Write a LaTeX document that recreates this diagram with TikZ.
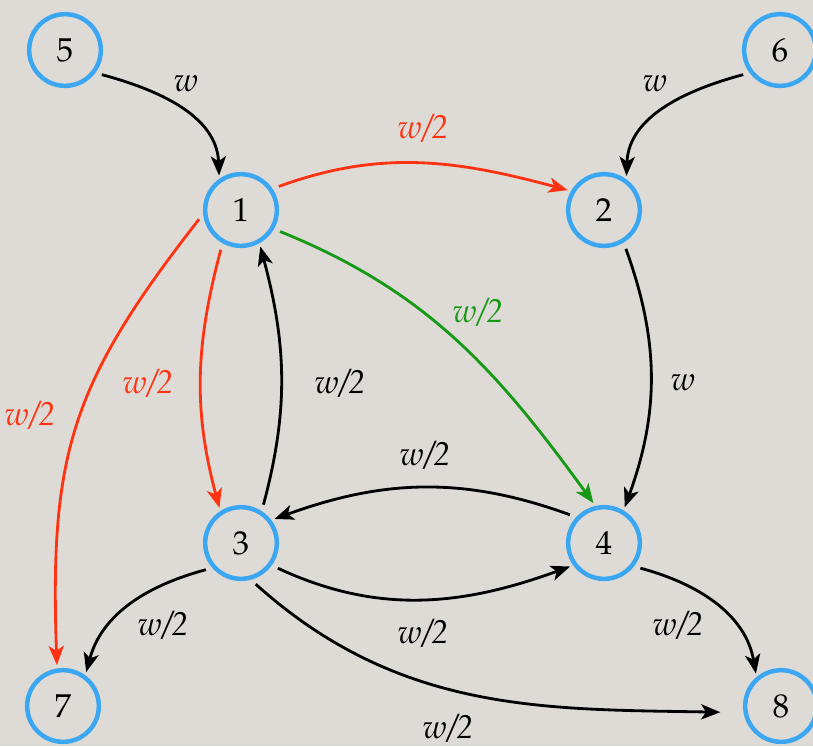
\documentclass[tikz,border=0pt]{standalone}
\usepackage[T1]{fontenc}
\usepackage{mathpazo}
\usetikzlibrary{arrows.meta, positioning}
\definecolor{paper}{HTML}{DEDBD7}
\definecolor{ringblue}{HTML}{3BA7F2}
\definecolor{flowred}{HTML}{FF3311}
\definecolor{flowgreen}{HTML}{169A16}

\begin{document}
\begin{tikzpicture}[
		x=0.0106cm, y=-0.0106cm,
		% vertices of the graph
		vertex/.style={
			circle,
			draw=ringblue,
			line width=1.35pt,
			minimum size=0.76cm,
			inner sep=0pt,
			font=\normalsize
		},
		% weighted edges
		flow/.style={
			-{Stealth[length=5.8pt, width=4.6pt, inset=1.5pt]},
			line width=0.85pt,
			black,
			shorten <=2pt,
			shorten >=1pt
		},
		redflow/.style={flow, flowred},
		greenflow/.style={flow, flowgreen},
		% weight labels
		weight/.style={font=\normalsize\itshape, inner sep=1pt}
		]
		
		% Background
		\useasboundingbox (0,0) rectangle (813,746);
		\fill[paper] (0,0) rectangle (813,746);
		
		% Vertices
		\node (v5) [vertex] at (65,50)   {5};
		\node (v6) [vertex] at (780,50)  {6};
		\node (v1) [vertex] at (241,210) {1};
		\node (v2) [vertex] at (604,210) {2};
		\node (v3) [vertex] at (241,543) {3};
		\node (v4) [vertex] at (604,543) {4};
		\node (v7) [vertex] at (63,706)  {7};
		\node (v8) [vertex] at (781,706) {8};
		
		% Incoming edges at the top
		\draw [flow] (v5.-37) to[out=-15, in=92] (v1.125);
		\draw [flow] (v6.217) to[out=195, in=88] (v2.54);
		
		% Edges out of vertex 1
		\draw [redflow] (v1.34) to[out=20, in=165] (v2.150);
		\draw [greenflow] (v1.-30) to[out=-22, in=126] (v4.103);
		\draw [redflow] (v1.241) to[out=-105, in=105] (v3.123);
		\draw [redflow] (v1.186) to[out=-128, in=92, looseness=1.15] (v7.99);
		
		% Edges among 2, 3 and 4
		\draw [flow] (v2.-59) to[out=-70, in=70] (v4.59);
		\draw [flow] (v3.57) to[out=75, in=-75] (v1.-61);
		\draw [flow] (v4.137) to[out=160, in=20] (v3.37);
		\draw [flow] (v3.-36) to[out=-25, in=200] (v4.216);
		
		% Outgoing edges at the bottom
		\draw [flow] (v3.221) to[out=195, in=75] (v7.54);
		\draw [flow] (v4.-38) to[out=-15, in=100] (v8.130);
		\draw [flow, shorten >=7pt] (v3.-75) to[out=-42, in=179] (v8.190);
		
		% Weights
		\node (w51) [weight] at (186,83)  {w};
		\node (w62) [weight] at (655,83)  {w};
		\node (w12) [weight, flowred] at (423,128) {w/2};
		\node (w14) [weight, flowgreen] at (478,312) {w/2};
		\node (w13) [weight, flowred] at (148,383) {w/2};
		\node (w31) [weight] at (340,383) {w/2};
		\node (w24) [weight] at (683,382) {w};
		\node (w17) [weight, flowred] at (30,415) {w/2};
		\node (w43) [weight] at (425,455) {w/2};
		\node (w37) [weight] at (163,625) {w/2};
		\node (w34) [weight] at (423,633) {w/2};
		\node (w48) [weight] at (678,625) {w/2};
		\node (w38) [weight] at (448,728) {w/2};
		
	\end{tikzpicture}
\end{document}
